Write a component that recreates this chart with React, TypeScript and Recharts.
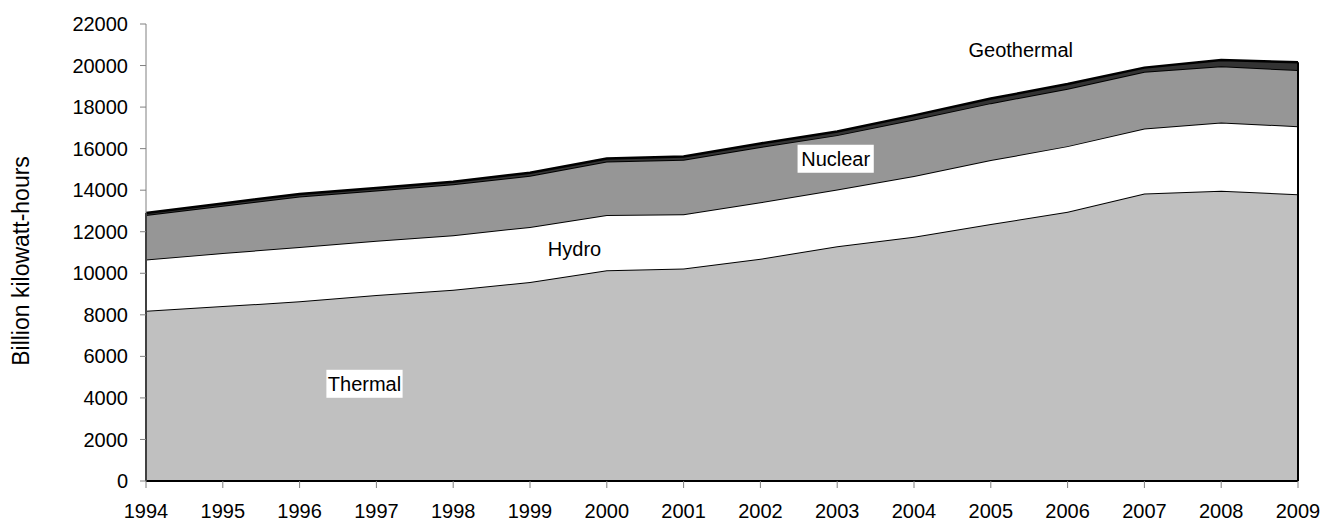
import React from "react";
import { AreaChart, Area, XAxis, YAxis, ReferenceLine, ReferenceDot } from "recharts";

const years = [1994, 1995, 1996, 1997, 1998, 1999, 2000, 2001, 2002, 2003, 2004, 2005, 2006, 2007, 2008, 2009];
const thermal = [8200, 8420, 8650, 8950, 9210, 9580, 10140, 10230, 10700, 11300, 11760, 12370, 12960, 13840, 13970, 13810];
const hydro = [2460, 2550, 2620, 2620, 2620, 2650, 2660, 2610, 2720, 2730, 2920, 3080, 3160, 3130, 3290, 3270];
const nuclear = [2140, 2280, 2430, 2410, 2450, 2470, 2580, 2620, 2660, 2620, 2720, 2740, 2760, 2730, 2710, 2700];
const geothermal = [100, 110, 120, 120, 130, 140, 150, 160, 170, 180, 200, 220, 230, 200, 300, 380];
const yTicks = [0, 2000, 4000, 6000, 8000, 10000, 12000, 14000, 16000, 18000, 20000, 22000];

const data = years.map((year, i) => ({
  year,
  thermal: thermal[i],
  hydro: hydro[i],
  nuclear: nuclear[i],
  geothermal: geothermal[i],
}));

const totals = years.map((_, i) => thermal[i] + hydro[i] + nuclear[i] + geothermal[i]);
const first = 0;
const last = years.length - 1;

const FONT = "'Liberation Sans', Arial, sans-serif";

const makeLabel = (text: string, boxed: boolean) => (props: any) => {
  const { cx, cy } = props;
  const w = text.length * 10.6 + 2;
  return (
    <g>
      {boxed && <rect x={cx - w / 2} y={cy - 14} width={w} height={28} fill="#fff" />}
      <text x={cx} y={cy} textAnchor="middle" dominantBaseline="central" fontFamily={FONT} fontSize={20} fill="#000">
        {text}
      </text>
    </g>
  );
};

const YLabel = () => (
  <text x={29} y={261} transform="rotate(-90 29 261)" textAnchor="middle" fontFamily={FONT} fontSize={23} fill="#000">
    Billion kilowatt-hours
  </text>
);

export default function App() {
  return (
    <div style={{ position: "absolute", left: 0, top: 0, background: "#fff" }}>
      <AreaChart width={1323} height={521} data={data} margin={{ top: 24, right: 25, bottom: 0, left: 0 }}>
        <XAxis
          dataKey="year"
          type="number"
          domain={[1994, 2009]}
          ticks={years}
          interval={0}
          axisLine={{ stroke: "#000", strokeWidth: 2 }}
          tickLine={{ stroke: "#808080" }}
          tickSize={7}
          tickMargin={16}
          height={40}
          tick={{ fill: "#000", fontSize: 20, fontFamily: FONT }}
        />
        <YAxis
          type="number"
          domain={[0, 22000]}
          ticks={yTicks}
          interval={0}
          width={146}
          axisLine={{ stroke: "#808080" }}
          tickLine={{ stroke: "#808080" }}
          tickSize={6}
          tickMargin={12}
          tick={{ fill: "#000", fontSize: 20, fontFamily: FONT }}
          label={<YLabel />}
        />
        <Area type="linear" dataKey="thermal" stackId="a" fill="#C0C0C0" fillOpacity={1} stroke="#000" strokeWidth={2} isAnimationActive={false} />
        <Area type="linear" dataKey="hydro" stackId="a" fill="#FFFFFF" fillOpacity={1} stroke="#000" strokeWidth={2} isAnimationActive={false} />
        <Area type="linear" dataKey="nuclear" stackId="a" fill="#969696" fillOpacity={1} stroke="#000" strokeWidth={2} isAnimationActive={false} />
        <Area type="linear" dataKey="geothermal" stackId="a" fill="#333333" fillOpacity={1} stroke="#000" strokeWidth={2.5} isAnimationActive={false} />
        <ReferenceLine
          segment={[{ x: years[first], y: 0 }, { x: years[first], y: totals[first] }]}
          stroke="#000"
          strokeWidth={2}
        />
        <ReferenceLine
          segment={[{ x: years[last], y: 0 }, { x: years[last], y: totals[last] }]}
          stroke="#000"
          strokeWidth={2}
        />
        <ReferenceDot x={2005.39} y={20750} r={0} shape={makeLabel("Geothermal", false)} />
        <ReferenceDot x={2002.98} y={15513} r={0} shape={makeLabel("Nuclear", true)} />
        <ReferenceDot x={1999.58} y={11170} r={0} shape={makeLabel("Hydro", false)} />
        <ReferenceDot x={1996.845} y={4680} r={0} shape={makeLabel("Thermal", true)} />
      </AreaChart>
    </div>
  );
}
